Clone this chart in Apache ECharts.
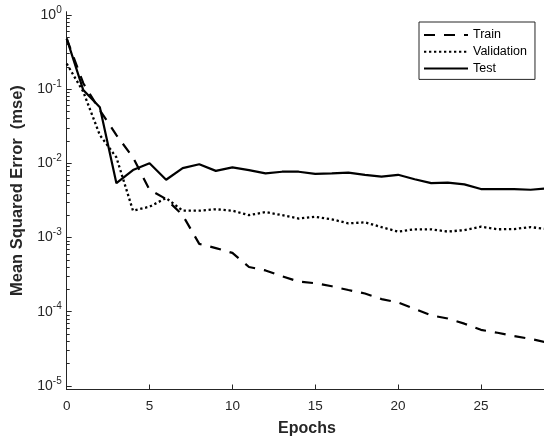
<!DOCTYPE html>
<html>
<head>
<meta charset="utf-8">
<script src="https://cdn.jsdelivr.net/npm/echarts@6/dist/echarts.min.js"></script>
<style>
  html, body { margin: 0; padding: 0; background: #fff; }
  #chart { width: 544px; height: 439px; }
</style>
</head>
<body>
<div id="chart"></div>
<script>
// epochs 0..29
var epochs = [0,1,2,3,4,5,6,7,8,9,10,11,12,13,14,15,16,17,18,19,20,21,22,23,24,25,26,27,28,29];

var trainMse = [0.48, 0.12, 0.052, 0.024, 0.012, 0.0044, 0.0033, 0.0020, 0.00082, 0.00072,
                0.00062, 0.00040, 0.00036, 0.00030, 0.000255, 0.000242, 0.00022, 0.000196, 0.000176, 0.000148,
                0.000133, 0.000109, 0.000089, 0.000081, 0.000069, 0.000057, 0.000052, 0.000047, 0.000043, 0.0000385];

var validMse = [0.22, 0.092, 0.024, 0.012, 0.0023, 0.0026, 0.0034, 0.0023, 0.0023, 0.0024,
                0.0023, 0.0020, 0.0022, 0.0020, 0.0018, 0.0019, 0.00176, 0.00155, 0.0016, 0.00138,
                0.0012, 0.00129, 0.00129, 0.0012, 0.00126, 0.0014, 0.00129, 0.0013, 0.00138, 0.0013];

var testMse = [0.48, 0.097, 0.057, 0.0054, 0.0081, 0.0100, 0.0060, 0.0086, 0.0097, 0.0079,
               0.0088, 0.0081, 0.0073, 0.0077, 0.0077, 0.0072, 0.0073, 0.0075, 0.0070, 0.0066,
               0.0070, 0.0061, 0.0054, 0.0055, 0.0052, 0.0045, 0.0045, 0.0045, 0.0044, 0.0046];

var xTicks = [0, 5, 10, 15, 20, 25];
var yTicks = [1e-5, 1e-4, 1e-3, 1e-2, 1e-1, 1];
var yMinorTicks = [];
for (var e = -5; e < 0; e++) {
  for (var m = 2; m <= 9; m++) yMinorTicks.push(m * Math.pow(10, e));
}

var font = "'Liberation Sans', Arial, Helvetica, sans-serif";
var axisCol = '#262626';

function pairs(vals) {
  return epochs.map(function (x, i) { return [x, vals[i]]; });
}

var chart = echarts.init(document.getElementById('chart'), null, { renderer: 'canvas' });

var option = {
  animation: false,
  backgroundColor: '#fff',
  textStyle: { fontFamily: font },
  // fixed plot box, no auto shrinking for labels
  grid: { left: 66.7, top: 11.7, width: 480.5, height: 377.8, containLabel: false, outerBoundsMode: 'none' },
  legend: {
    orient: 'vertical',
    left: 419,
    top: 22,
    data: ['Train', 'Validation', 'Test'],
    itemWidth: 44,
    itemHeight: 14,
    itemGap: 2.7,
    padding: [6, 8, 4, 4],
    backgroundColor: '#fff',
    borderColor: axisCol,
    borderWidth: 1,
    borderRadius: 0,
    itemStyle: { opacity: 0 },  // hide the default circle on line icons
    textStyle: { fontFamily: font, fontSize: 12.5, color: '#000', lineHeight: 14 }
  },
  xAxis: {
    type: 'value',
    min: 0,
    max: 29,
    name: 'Epochs',
    nameLocation: 'middle',
    nameGap: 31,
    nameTextStyle: { fontFamily: font, fontSize: 16, fontWeight: 'bold', color: axisCol },
    axisLine: { onZero: false, lineStyle: { color: axisCol, width: 1 } },
    axisTick: { inside: true, length: 5, customValues: xTicks, lineStyle: { color: axisCol } },
    axisLabel: { customValues: xTicks, margin: 10, fontSize: 13.5, color: axisCol, fontFamily: font },
    splitLine: { show: false }
  },
  yAxis: [{
    type: 'log',
    logBase: 10,
    min: Math.pow(10, -5.0485),
    max: Math.pow(10, 0.0431),
    name: 'Mean Squared Error  (mse)',
    nameLocation: 'middle',
    nameGap: 37,
    nameTextStyle: { fontFamily: font, fontSize: 16.5, fontWeight: 'bold', color: axisCol, padding: [0, 0, 0, 20] },
    axisLine: { show: true, lineStyle: { color: axisCol, width: 1 } },
    axisTick: { inside: true, length: 5, customValues: yTicks, lineStyle: { color: axisCol } },
    axisLabel: {
      customValues: yTicks,
      margin: 5,
      color: axisCol,
      fontFamily: font,
      formatter: function (v) {
        return '{b|10}{s|' + Math.round(Math.log10(v)) + '}';
      },
      rich: {
        b: { fontSize: 14, fontFamily: font, color: axisCol },
        s: { fontSize: 10, fontFamily: font, color: axisCol, padding: [0, 0, 10, 0] }
      }
    },
    splitLine: { show: false }
  }, {
    type: 'log',
    logBase: 10,
    position: 'left',
    min: Math.pow(10, -5.0485),
    max: Math.pow(10, 0.0431),
    axisLine: { show: false },
    axisTick: { inside: true, length: 3, customValues: yMinorTicks, lineStyle: { color: axisCol } },
    axisLabel: { show: false },
    splitLine: { show: false }
  }],
  series: [{
    name: 'Train',
    type: 'line',
    data: pairs(trainMse),
    symbol: 'none',
    lineStyle: { color: '#000', width: 2.2, type: [11, 9] },
    itemStyle: { color: '#000' }
  }, {
    name: 'Validation',
    type: 'line',
    data: pairs(validMse),
    symbol: 'none',
    lineStyle: { color: '#000', width: 2.3, type: [2.3, 2.7] },
    itemStyle: { color: '#000' }
  }, {
    name: 'Test',
    type: 'line',
    data: pairs(testMse),
    symbol: 'none',
    lineStyle: { color: '#000', width: 2.2, type: 'solid' },
    itemStyle: { color: '#000' }
  }]
};

chart.setOption(option);
</script>
</body>
</html>
